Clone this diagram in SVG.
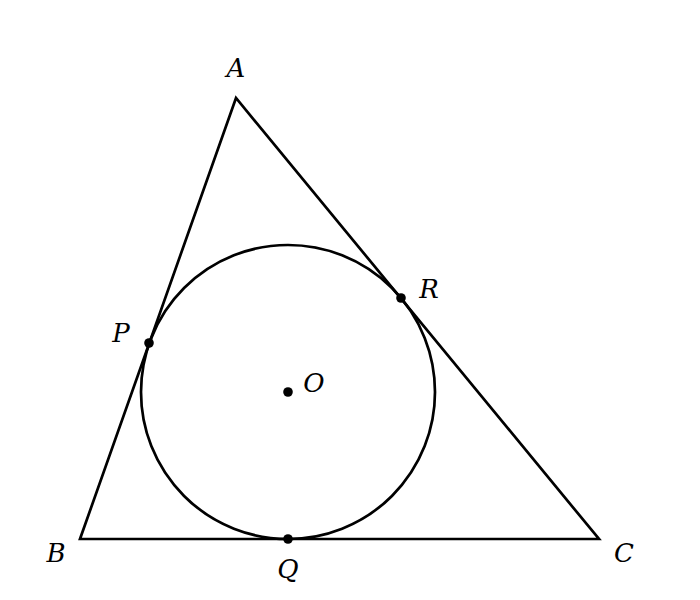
<svg xmlns="http://www.w3.org/2000/svg" width="700" height="600" viewBox="0 0 700 600">
<style>
.ln{fill:none;stroke:#000;stroke-width:2.7;stroke-linejoin:miter}
.pt{fill:#000}
.lb{font-family:"DejaVu Serif",serif;font-style:italic;font-size:26px;fill:#000;text-anchor:middle}
</style>
<rect width="700" height="600" fill="#fff"/>
<g id="connectors">
<polygon class="ln" points="236,98 80,539 599,539"/>
</g>
<g id="circle"><circle class="ln" cx="288" cy="392" r="147"/></g>
<g id="A"><text class="lb" x="236" y="77">A</text></g>
<g id="B"><text class="lb" x="56" y="562">B</text></g>
<g id="C"><text class="lb" x="624" y="562">C</text></g>
<g id="P"><circle class="pt" cx="149" cy="343" r="4.8"/><text class="lb" x="121" y="342">P</text></g>
<g id="R"><circle class="pt" cx="401" cy="298" r="4.8"/><text class="lb" x="429" y="298">R</text></g>
<g id="O"><circle class="pt" cx="288" cy="392" r="4.8"/><text class="lb" x="314" y="392">O</text></g>
<g id="Q"><circle class="pt" cx="288" cy="539" r="4.8"/><text class="lb" x="288" y="578">Q</text></g>
</svg>
